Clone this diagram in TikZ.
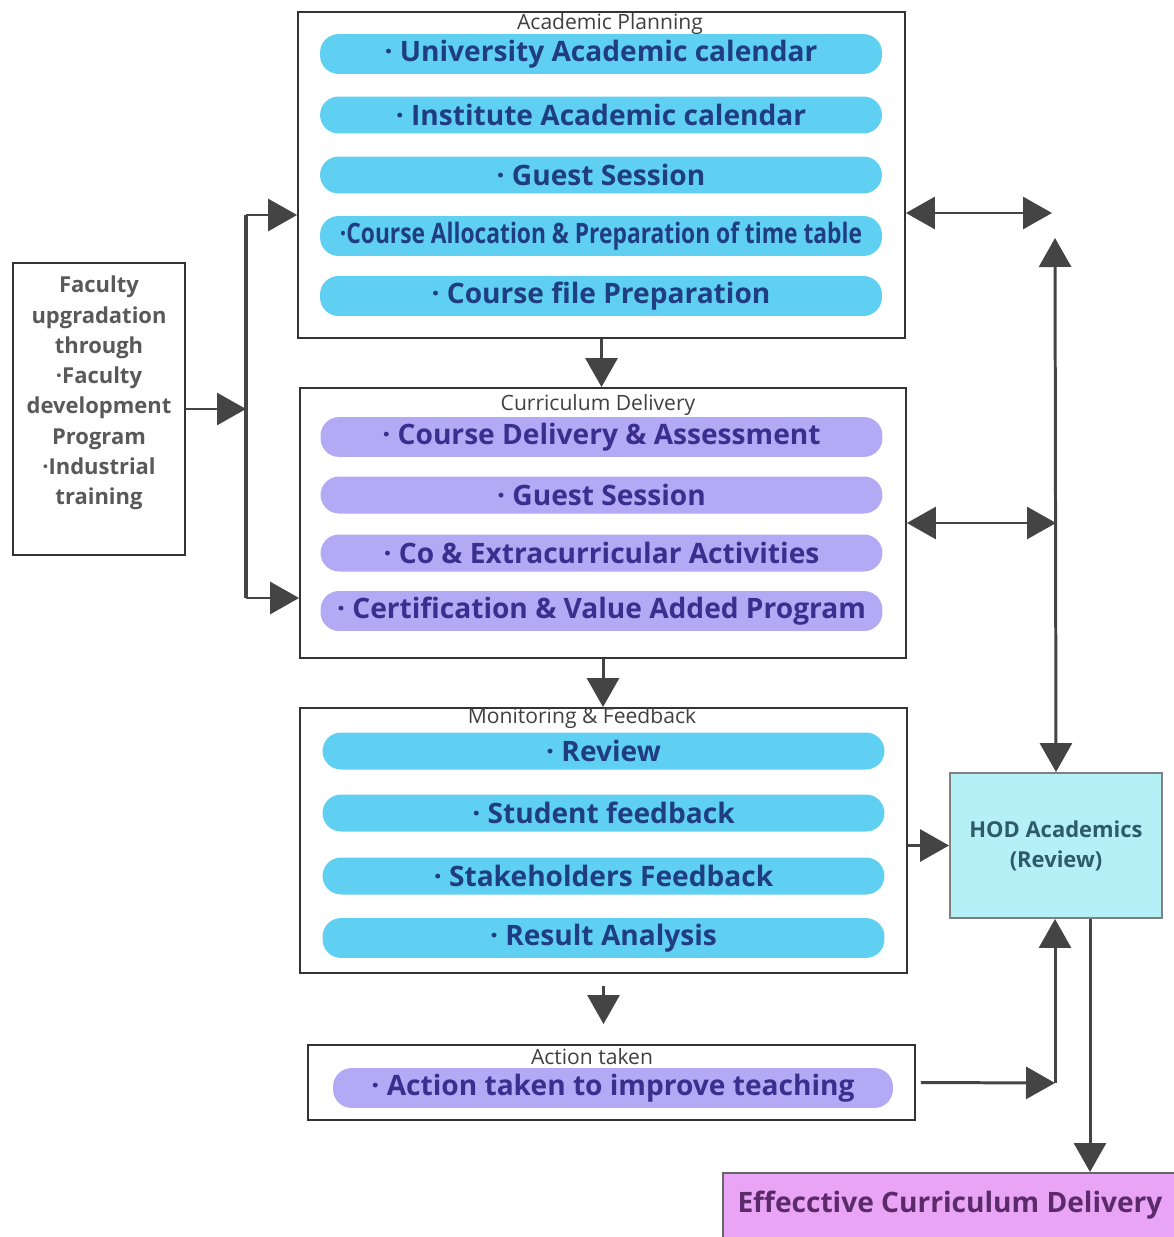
\documentclass[tikz,border=0pt]{standalone}
\usepackage{fontspec}
\setmainfont{Open Sans}
\usetikzlibrary{positioning}
\usetikzlibrary{arrows.meta}
\definecolor{pc}{HTML}{5FD0F2}
\definecolor{pp}{HTML}{B3A9F4}
\definecolor{tc}{HTML}{1F3D80}
\definecolor{tp}{HTML}{3A2F8F}
\definecolor{ln}{HTML}{444444}
\definecolor{hodc}{HTML}{B5F0F7}
\definecolor{hodt}{HTML}{2D5B6B}
\definecolor{effc}{HTML}{E9A4F6}
\definecolor{efft}{HTML}{5A2A6A}

\tikzset{
  frame/.style={draw=black!80, line width=1.1pt},
  pillc/.style={fill=pc, rounded corners=0.37cm, minimum width=11.24cm, minimum height=0.74cm,
    text=tc, font=\fontsize{16}{19}\selectfont\bfseries},
  pillp/.style={pillc, fill=pp, text=tp},
  ttl/.style={text=black!75, font=\fontsize{12}{14}\selectfont, inner sep=0pt},
  arr/.style={draw=ln, line width=1.7pt, -{Triangle[length=0.58cm,width=0.64cm]}},
  darr/.style={arr, {Triangle[length=0.58cm,width=0.64cm]}-{Triangle[length=0.58cm,width=0.64cm]}},
}

\begin{document}
\begin{tikzpicture}[x=0.02cm, y=-0.02cm]
  \useasboundingbox (0,0) rectangle (1173,1237);

  % faculty box
  \node[frame, minimum width=3.44cm, minimum height=5.84cm] (fac) at (99,409) {};
  \node[text=black!65, font=\fontsize{12.5}{17.2}\selectfont\bfseries, align=center] (factxt) at (99,393)
    {Faculty\\upgradation\\through\\·Faculty\\development\\Program\\·Industrial\\training};

  % academic planning
  \node[frame, minimum width=12.14cm, minimum height=6.52cm] (plan) at (601.5,175) {};
  \node[ttl] (plant) at (610,24) {Academic Planning};
  \node[pillc] (p1) at (601,54) {· University Academic calendar};
  \node[pillc] (p2) at (601,115) {· Institute Academic calendar};
  \node[pillc] (p3) at (601,175) {· Guest Session};
  \node[pillc] (p4) at (601,236) {\scalebox{0.81}[1]{·Course Allocation \& Preparation of time table}};
  \node[pillc] (p5) at (601,296) {· Course file Preparation};

  % curriculum delivery
  \node[frame, minimum width=12.12cm, minimum height=5.4cm] (deliv) at (603,523) {};
  \node[ttl] (delivt) at (598,405) {Curriculum Delivery};
  \node[pillp] (d1) at (601.5,437) {· Course Delivery \& Assessment};
  \node[pillp] (d2) at (601.5,495) {· Guest Session};
  \node[pillp] (d3) at (601.5,553) {· Co \& Extracurricular Activities};
  \node[pillp] (d4) at (601.5,611) {· Certification \& Value Added Program};

  % monitoring
  \node[frame, minimum width=12.14cm, minimum height=5.3cm] (mon) at (603.5,840.5) {};
  \node[ttl] (mont) at (582,718) {Monitoring \& Feedback};
  \node[pillc] (m1) at (603.5,751) {· Review};
  \node[pillc] (m2) at (603.5,813) {· Student feedback};
  \node[pillc] (m3) at (603.5,876) {· Stakeholders Feedback};
  \node[pillc] (m4) at (603.5,938) {· Result Analysis};

  % action taken
  \node[frame, minimum width=12.14cm, minimum height=1.5cm] (act) at (611.5,1082.5) {};
  \node[ttl] (actt) at (592,1057) {Action taken};
  \node[pillp, minimum width=11.2cm] (a1) at (613,1088) {· Action taken to improve teaching};

  % review and result
  \node[frame, fill=hodc, draw=black!50, minimum width=4.24cm, minimum height=2.9cm, align=center,
    text=hodt, font=\fontsize{12.5}{17}\selectfont\bfseries] (hod) at (1056,845.5) {HOD Academics\\(Review)};
  \node[frame, fill=effc, draw=black!60, anchor=north west, minimum width=9.5cm, minimum height=1.7cm] (effbox) at (722,1172) {};
  \node[text=efft, font=\fontsize{16}{19}\selectfont\bfseries] (eff) at (950,1205) {Effecctive Curriculum Delivery};

  % connectors
  \coordinate (bt) at (246,215);
  \coordinate (bb) at (246,598);
  \draw[draw=ln, line width=2.4pt] (bt) -- (bb);
  \draw[arr] (fac.east) -- (fac.east -| bt);
  \draw[arr] (bt) -- (plan.west |- bt);
  \draw[arr] (bb) -- (deliv.west |- bb);

  \draw[arr] (plan.south) -- (plan.south |- deliv.north);
  \draw[arr] (deliv.south) -- (deliv.south |- mon.north);
  \draw[arr, shorten <=0.24cm, shorten >=0.4cm] (mon.south) -- (mon.south |- act.north);

  \coordinate (pr) at (1052,213);
  \coordinate (vt) at (1055,238);
  \draw[darr] (plan.east |- pr) -- (pr);
  \draw[darr] (vt) -- (hod.north);
  \draw[darr] (deliv.east) -- (deliv.east -| hod.north);
  \draw[arr] (mon.east |- hod.west) -- (hod.west);

  \coordinate (ac) at (1055,1083);
  \draw[arr, shorten <=0.1cm] (act.east) -- (ac);
  \draw[arr] (ac) -- (ac |- hod.south);
  \draw[arr] ([xshift=0.68cm]hod.south) -- ([xshift=0.68cm]hod.south |- effbox.north);
\end{tikzpicture}
\end{document}
